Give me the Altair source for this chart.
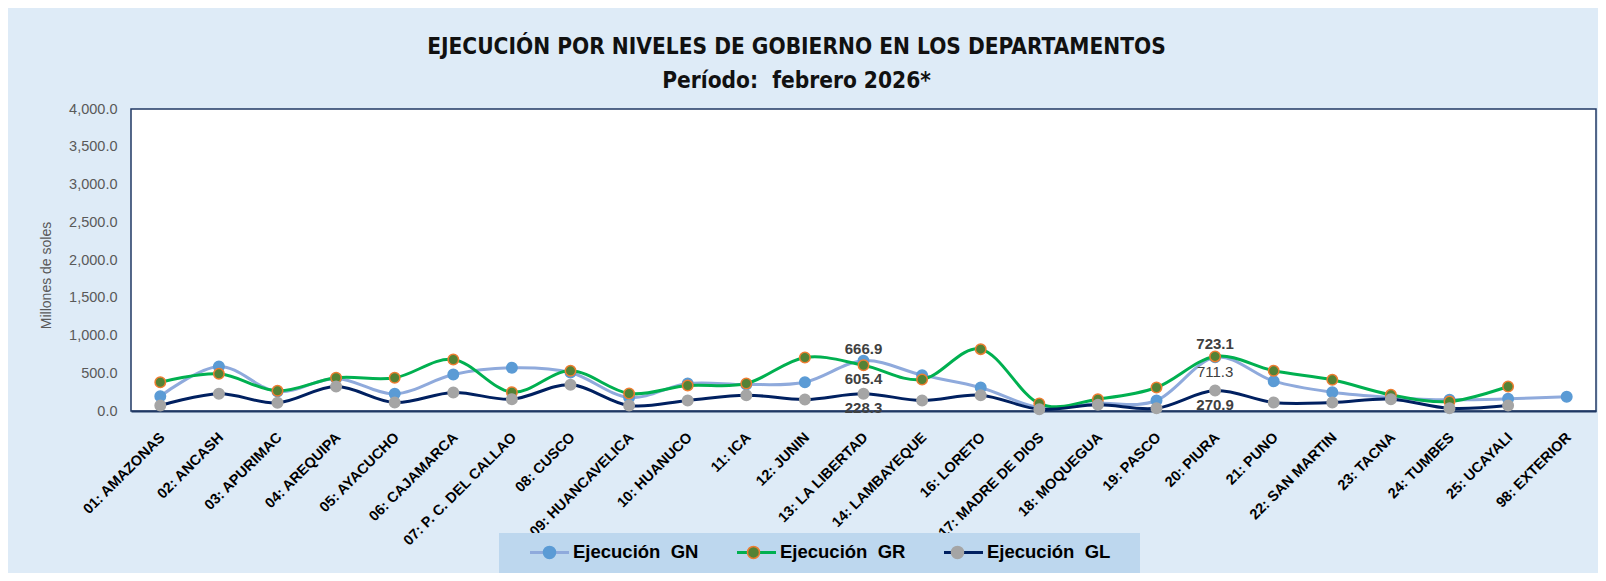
import altair as alt
import pandas as pd

departamentos = ["01: AMAZONAS", "02: ANCASH", "03: APURIMAC", "04: AREQUIPA", "05: AYACUCHO",
                 "06: CAJAMARCA", "07: P. C. DEL CALLAO", "08: CUSCO", "09: HUANCAVELICA", "10: HUANUCO",
                 "11: ICA", "12: JUNIN", "13: LA LIBERTAD", "14: LAMBAYEQUE", "16: LORETO",
                 "17: MADRE DE DIOS", "18: MOQUEGUA", "19: PASCO", "20: PIURA", "21: PUNO",
                 "22: SAN MARTIN", "23: TACNA", "24: TUMBES", "25: UCAYALI", "98: EXTERIOR"]
ejec_gn = [196, 589, 257, 432, 228, 483, 572, 510, 179, 364, 351, 382, 666.9, 475, 311,
           46, 100, 139, 711.3, 395, 249, 180, 148, 161, 188]
ejec_gr = [381, 492, 267, 440, 440, 682, 249, 532, 232, 338, 364, 709, 605.4, 417, 819,
           99, 157, 311, 723.1, 532, 413, 214, 126, 324, None]
ejec_gl = [73, 228, 108, 324, 113, 245, 157, 347, 73, 139, 210, 152, 228.3, 139, 210,
           24, 82, 37, 270.9, 113, 113, 157, 37, 73, None]

series_codes = ["1GN", "2GR", "3GL"]
line_colors = ["#8FAADC", "#00B050", "#002060"]
marker_fill = ["#5B9BD5", "#548235", "#A5A5A5"]
marker_stroke = ["#5B9BD5", "#ED7D31", "#A5A5A5"]

label_dep = ["13: LA LIBERTAD", "13: LA LIBERTAD", "13: LA LIBERTAD", "20: PIURA", "20: PIURA", "20: PIURA"]
label_serie = ["1GN", "2GR", "3GL", "1GN", "2GR", "3GL"]
label_pos = ["above", "below", "below", "below", "above", "below"]
label_weight = ["bold", "bold", "bold", "normal", "bold", "bold"]

rows = []
for code, vals in zip(series_codes, [ejec_gn, ejec_gr, ejec_gl]):
    for d, v in zip(departamentos, vals):
        if v is not None:
            rows.append({"dep": d, "serie": code, "serie2": code, "valor": v})
df = pd.DataFrame(rows)

lab_rows = []
for d, s, p, w in zip(label_dep, label_serie, label_pos, label_weight):
    v = df[(df.dep == d) & (df.serie == s)].valor.iloc[0]
    lab_rows.append({"dep": d, "serie": s, "valor": v, "pos": p, "peso": w})
df_lab = pd.DataFrame(lab_rows)

FONT = "Liberation Sans"
TITLE_FONT = "DejaVu Sans Condensed, DejaVu Sans, sans-serif"
label_expr = "'Ejecución\u00a0 ' + slice(datum.label, 1)"

x_enc = alt.X("dep:N", sort=departamentos, title=None,
              axis=alt.Axis(labelAngle=-45, labelFont=FONT, labelFontSize=14.5, labelFontWeight="bold",
                            labelColor="#000000", ticks=False, domainColor="#1F3864", domainWidth=2,
                            labelPadding=19, labelOffset=-3, labelLimit=0))
y_enc = alt.Y("valor:Q", title="Millones de soles",
              scale=alt.Scale(domain=[0, 4000], nice=False),
              axis=alt.Axis(values=list(range(0, 4001, 500)), format=",.1f", grid=False, ticks=False,
                            domain=False, labelFont=FONT, labelFontSize=14.5, labelColor="#595959",
                            labelPadding=14, titleFont=FONT, titleFontSize=14, titleFontWeight="normal",
                            titleColor="#595959", titleX=-85, titleY=166, titleAngle=-90,
                            titleBaseline="middle", titleAlign="center"))

# Legend symbols (units of 6 px): invisible move-to points fix the entry boxes
EXT = "M-6.74,0M26.67,0M0,-1.75M0,1.75"
leg_common = dict(title=None, orient="none", legendX=368, legendY=424, direction="horizontal",
                  symbolSize=144, symbolOffset=31.25, labelOffset=14.25,
                  padding=10, labelFont=FONT, labelFontSize=18.5, labelLimit=0)
line_legend = alt.Legend(symbolType=EXT + "M-3.25,0L3.25,0", symbolStrokeWidth=3, columnPadding=-9.5,
                         labelFontWeight="bold", labelColor="#000000", fillColor="#BDD7EE",
                         labelExpr=label_expr, **leg_common)
pt_legend = alt.Legend(symbolType=EXT + "M1,0A1,1,0,1,1,-1,0A1,1,0,1,1,1,0Z", columnPadding=-4.5,
                       symbolStrokeWidth=1.5, symbolOpacity=1, labelExpr="''", **leg_common)

base = alt.Chart(df)
layers = []
for code in series_codes:
    layers.append(
        base.transform_filter(alt.datum.serie == code)
        .mark_line(interpolate="cardinal", strokeWidth=3)
        .encode(x=x_enc, y=y_enc,
                color=alt.Color("serie:N", scale=alt.Scale(range=line_colors), legend=line_legend))
    )
    layers.append(
        base.transform_filter(alt.datum.serie == code)
        .mark_circle(size=110, opacity=1, strokeWidth=1.5)
        .encode(x=x_enc, y=y_enc,
                fill=alt.Fill("serie2:N", scale=alt.Scale(range=marker_fill), legend=pt_legend),
                stroke=alt.Stroke("serie2:N", scale=alt.Scale(range=marker_stroke), legend=pt_legend))
    )

lab_base = alt.Chart(df_lab)
txt_kw = dict(font=FONT, fontSize=15, color="#404040", align="center", baseline="middle")
layers.append(lab_base.transform_filter((alt.datum.pos == "above") & (alt.datum.peso == "bold"))
              .mark_text(dy=-12, fontWeight="bold", **txt_kw)
              .encode(x=x_enc, y=y_enc, text=alt.Text("valor:Q", format=".1f")))
layers.append(lab_base.transform_filter((alt.datum.pos == "below") & (alt.datum.peso == "bold"))
              .mark_text(dy=14, fontWeight="bold", **txt_kw)
              .encode(x=x_enc, y=y_enc, text=alt.Text("valor:Q", format=".1f")))
layers.append(lab_base.transform_filter((alt.datum.pos == "below") & (alt.datum.peso == "normal"))
              .mark_text(dy=15, fontWeight="normal", **txt_kw)
              .encode(x=x_enc, y=y_enc, text=alt.Text("valor:Q", format=".1f")))

chart = alt.layer(*layers).properties(
    width=1465, height=302,
    padding={"left": 123, "top": 101, "right": 2, "bottom": 162},
    autosize=alt.AutoSizeParams(type="none"),
    background="#DEEBF7",
    title=alt.Title(["EJECUCIÓN POR NIVELES DE GOBIERNO EN LOS DEPARTAMENTOS",
                     "Período:\u00a0 febrero 2026*"],
                    anchor="middle", frame="group", dx=-67, offset=9, lineHeight=34,
                    font=TITLE_FONT, fontSize=22.5, fontWeight="bold", color="#111111"),
).resolve_scale(color="shared", fill="shared", stroke="shared").configure_view(
    stroke="#203864", strokeWidth=1.5, fill="white"
)

chart.save("out.html", embed_options={"renderer": "svg", "actions": False})
